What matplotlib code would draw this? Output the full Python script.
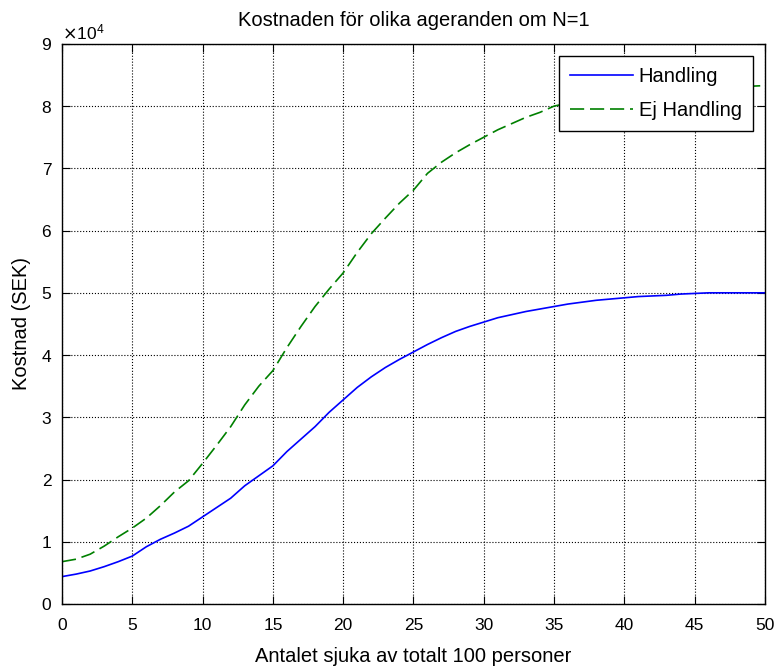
import numpy as np
import matplotlib
matplotlib.use("Agg")
import matplotlib.pyplot as plt
from matplotlib.ticker import ScalarFormatter

# antal sjuka (0..50)
sjuka = list(range(51))

# kostnad i SEK
handling = [4400, 4800, 5300, 6000, 6800, 7700, 9200, 10400, 11400, 12500,
            14000, 15500, 17000, 19000, 20600, 22200, 24500, 26500, 28500, 30800,
            32800, 34800, 36500, 38000, 39300, 40500, 41700, 42800, 43800, 44600,
            45300, 46000, 46500, 47000, 47400, 47800, 48200, 48500, 48800, 49000,
            49200, 49400, 49500, 49600, 49800, 49900, 50000, 50000, 50000, 50000,
            50000]
ej_handling = [6800, 7200, 8000, 9300, 10800, 12200, 13800, 15800, 18000, 19800,
               22600, 25500, 28500, 32000, 35000, 37500, 41200, 44600, 47800, 50600,
               53200, 56500, 59500, 62000, 64400, 66500, 69200, 71000, 72500, 73800,
               75000, 76200, 77200, 78200, 79000, 80000, 80500, 80900, 81200, 81500,
               81700, 82000, 82200, 82400, 82600, 82800, 82900, 83000, 83100, 83200,
               83300]

plt.rcParams["font.family"] = ["Liberation Sans", "DejaVu Sans"]
fs_tick = 12.5
fs_text = 14.5

fig = plt.figure(figsize=(7.75, 6.66), dpi=100)
ax = fig.add_axes([0.080, 0.0931, 0.907, 0.841])

ax.plot(sjuka, handling, color="#0000ff", lw=1.2, label="Handling")
ax.plot(sjuka, ej_handling, color="#008000", lw=1.2, ls=(0, (8.5, 3.5)), label="Ej Handling")

ax.set_xlim(0, 50)
ax.set_ylim(0, 90000)
ax.set_xticks(np.arange(0, 51, 5))
ax.set_yticks(np.arange(0, 90001, 10000))

fmt = ScalarFormatter(useMathText=True)
fmt.set_powerlimits((0, 0))
ax.yaxis.set_major_formatter(fmt)
ax.yaxis.get_offset_text().set_fontsize(fs_tick)

ax.grid(True, color="black", ls=":", lw=0.8)
ax.tick_params(direction="in", top=True, right=True, length=6, labelsize=fs_tick)
ax.tick_params(axis="x", pad=10)
ax.tick_params(axis="y", pad=7)
for s in ax.spines.values():
    s.set_linewidth(1.0)

ax.set_title("Kostnaden för olika ageranden om N=1", fontsize=fs_text, pad=13)
ax.set_xlabel("Antalet sjuka av totalt 100 personer", fontsize=fs_text, labelpad=10)
ax.set_ylabel("Kostnad (SEK)", fontsize=fs_text, labelpad=7)

leg = ax.legend(loc="upper right", fancybox=False, edgecolor="black",
                framealpha=1, fontsize=fs_text, borderaxespad=0.6,
                handlelength=3.1, handletextpad=0.3, labelspacing=0.75,
                borderpad=0.55)
leg.get_frame().set_linewidth(1.0)

fig.savefig("out.png", dpi=100)
